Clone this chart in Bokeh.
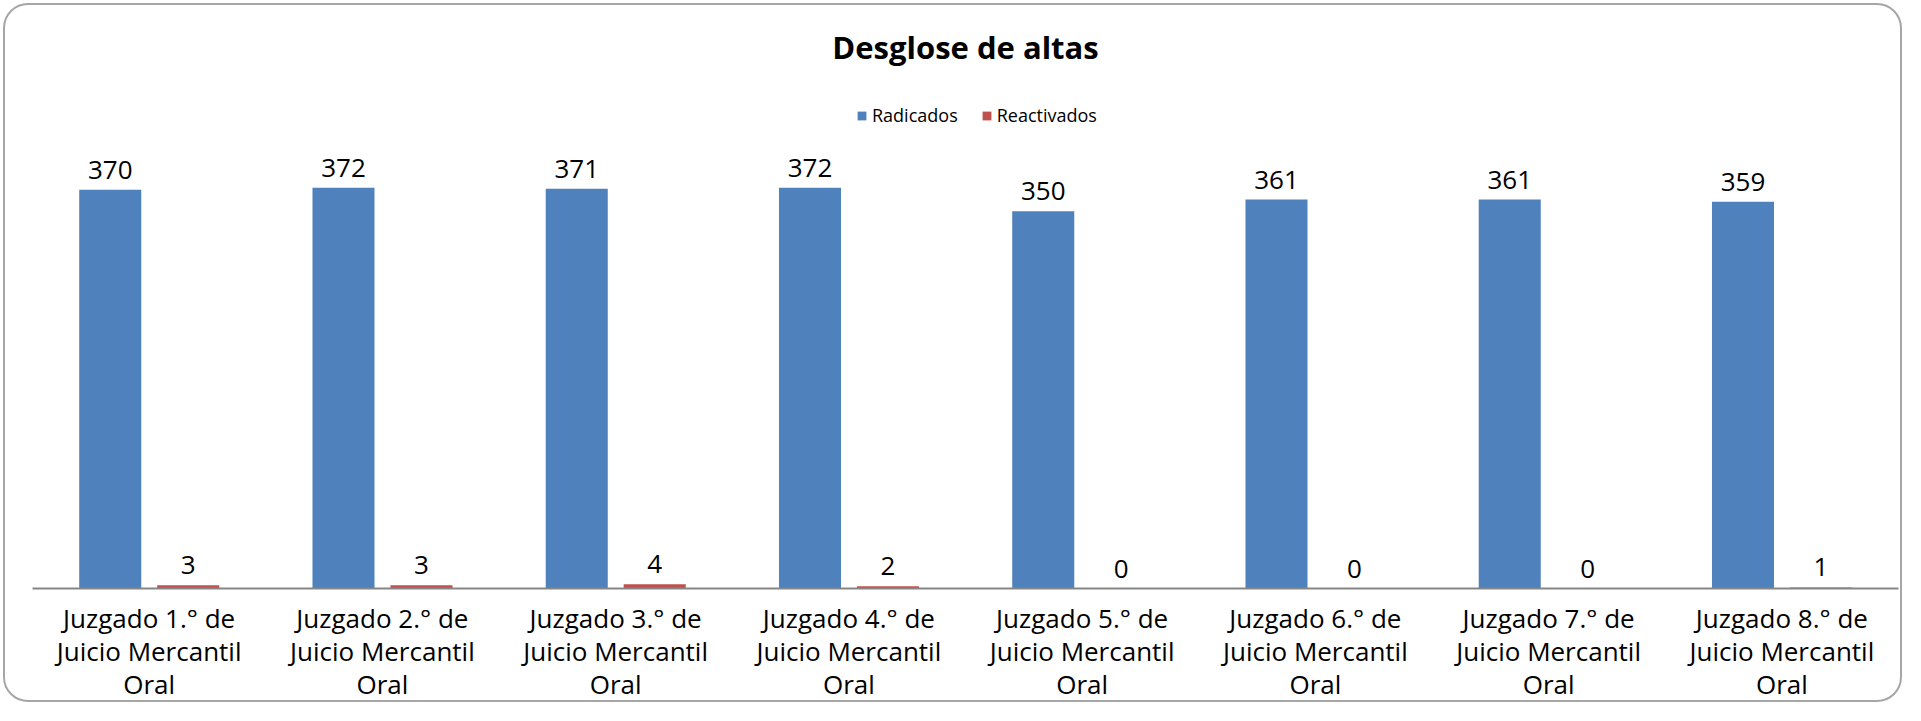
from bokeh.plotting import figure
from bokeh.models import FactorRange, Legend, LegendItem, ColumnDataSource
from bokeh.transform import dodge
from bokeh.core.properties import value
from bokeh.embed import file_html
from bokeh.resources import INLINE

categories = [
    "Juzgado 1.° de\nJuicio Mercantil\nOral",
    "Juzgado 2.° de\nJuicio Mercantil\nOral",
    "Juzgado 3.° de\nJuicio Mercantil\nOral",
    "Juzgado 4.° de\nJuicio Mercantil\nOral",
    "Juzgado 5.° de\nJuicio Mercantil\nOral",
    "Juzgado 6.° de\nJuicio Mercantil\nOral",
    "Juzgado 7.° de\nJuicio Mercantil\nOral",
    "Juzgado 8.° de\nJuicio Mercantil\nOral",
]
radicados = [370, 372, 371, 372, 350, 361, 361, 359]
reactivados = [3, 3, 4, 2, 0, 0, 0, 1]

FONT = "Open Sans"
BLUE = "#4F81BD"
RED = "#C0504D"

src = ColumnDataSource(dict(
    cat=categories,
    rad=radicados,
    rea=reactivados,
    rad_txt=[str(v) for v in radicados],
    rea_txt=[str(v) for v in reactivados],
))

W, H = 1905, 705
TOP = 70
FRAME_BOTTOM = 575
px_per_unit = 1.0505
y_end = (FRAME_BOTTOM - TOP) / px_per_unit

p = figure(
    width=W, height=H,
    title="Desglose de altas",
    x_range=FactorRange(*categories, range_padding=0),
    y_range=(0, y_end),
    output_backend="svg", toolbar_location=None,
    y_axis_location=None,
    min_border_left=32, min_border_right=7,
    min_border_top=TOP, min_border_bottom=100,
    styles={"outline": "2px solid #A6A6A6", "outline-offset": "-5px",
            "border-radius": "28px"},
)
p.title.align = "center"
p.title.text_font = FONT
p.title.text_font_size = "31px"
p.title.text_font_style = "bold"
p.title.text_color = "black"
p.title.standoff = 5

p.xgrid.visible = False
p.ygrid.visible = False
p.outline_line_color = None
p.background_fill_color = None
p.border_fill_color = None

r1 = p.vbar(x=dodge("cat", -0.1667, range=p.x_range), top="rad", width=0.266,
            source=src, fill_color=BLUE, line_color=None)
r2 = p.vbar(x=dodge("cat", 0.1676, range=p.x_range), top="rea", width=0.266,
            source=src, fill_color=RED, line_color=None)

p.text(x=dodge("cat", -0.1667, range=p.x_range), y="rad", text="rad_txt", source=src,
       text_align="center", text_baseline="alphabetic", y_offset=-20,
       text_font=value(FONT), text_font_size="26px", text_color="black")
p.text(x=dodge("cat", 0.1676, range=p.x_range), y="rea", text="rea_txt", source=src,
       text_align="center", text_baseline="alphabetic", y_offset=-20,
       text_font=value(FONT), text_font_size="26px", text_color="black")

ax = p.xaxis[0]
ax.axis_label = None
ax.axis_label_standoff = 0
ax.axis_line_color = "#868686"
ax.axis_line_width = 2
ax.major_tick_line_color = None
ax.minor_tick_line_color = None
ax.major_tick_out = 0
ax.major_tick_in = 0
ax.minor_tick_out = 0
ax.major_label_text_font = FONT
ax.major_label_text_font_size = "26px"
ax.major_label_text_color = "black"
ax.major_label_standoff = 11
ax.major_label_text_line_height = 0.93
ax.major_label_orientation = "horizontal"

legend = Legend(
    items=[LegendItem(label="Radicados", renderers=[r1]),
           LegendItem(label="Reactivados", renderers=[r2])],
    orientation="horizontal",
    location=(824, 461),
    glyph_width=11, glyph_height=11, label_standoff=5, spacing=23,
    padding=0, margin=0,
    border_line_color=None, background_fill_alpha=0,
    label_text_font=FONT, label_text_font_size="18px",
    label_text_color="black",
    label_height=11,
)
p.add_layout(legend, "center")

open("out.html", "w").write(file_html(p, INLINE))
